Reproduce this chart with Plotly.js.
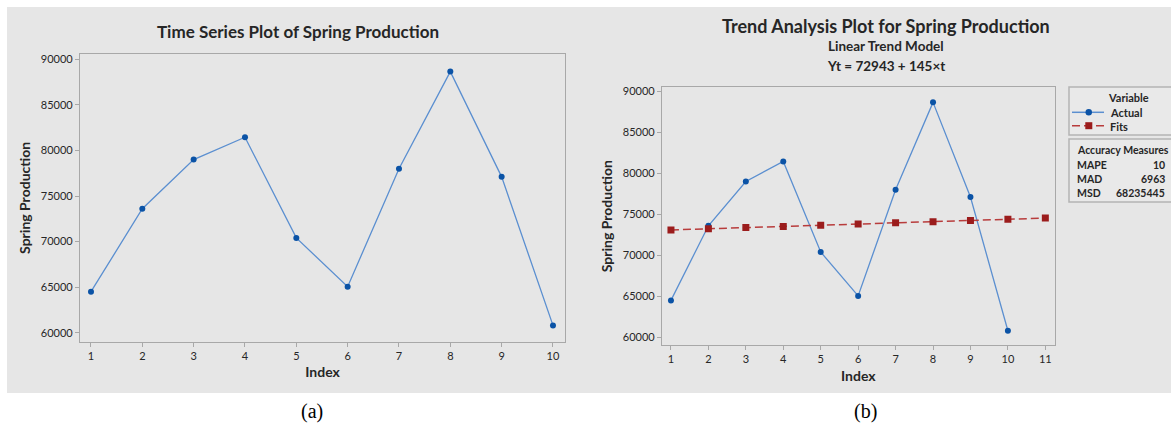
<!DOCTYPE html>
<html>
<head>
<meta charset="utf-8">
<script src="https://cdn.plot.ly/plotly-3.0.1.min.js"></script>
<style>html,body{margin:0;padding:0;background:#fff;}#chart{width:1171px;height:426px;}</style>
</head>
<body>
<div id="chart"></div>
<script>
// ---- data ----
const indexVals = [1, 2, 3, 4, 5, 6, 7, 8, 9, 10];
const actual = [64500, 73600, 79000, 81450, 70400, 65050, 78000, 88650, 77100, 60800];
const fitIndex = [1, 2, 3, 4, 5, 6, 7, 8, 9, 10, 11];
const fits = [73088, 73233, 73378, 73523, 73668, 73813, 73958, 74103, 74248, 74393, 74538];
const yTicks = [60000, 65000, 70000, 75000, 80000, 85000, 90000];
const yTickText = ["60000", "65000", "70000", "75000", "80000", "85000", "90000"];
const xTicksA = [1, 2, 3, 4, 5, 6, 7, 8, 9, 10];
const xTicksB = [1, 2, 3, 4, 5, 6, 7, 8, 9, 10, 11];
const measureNames = ["MAPE", "MAD", "MSD"];
const measureVals = ["10", "6963", "68235445"];

// ---- layout helpers ----
const W = 1171, H = 426;
const px = x => x / W;
const py = y => 1 - y / H;
const FONT = "Lato, 'Noto Sans', sans-serif";
const TXT = "#262626";
const FRAME = "#a8a8a8";

const blueLine = "#5b8fd0", blueMark = "#0b53a6";
const redLine = "#b83c3c", redMark = "#9b1c1c";

const traces = [
  {x: indexVals, y: actual, xaxis: "x", yaxis: "y", type: "scatter", mode: "lines+markers",
   line: {color: blueLine, width: 1.3}, marker: {color: blueMark, size: 6}, showlegend: false, name: "Actual"},
  {x: indexVals, y: actual, xaxis: "x2", yaxis: "y2", type: "scatter", mode: "lines+markers",
   line: {color: blueLine, width: 1.3}, marker: {color: blueMark, size: 6}, showlegend: false, name: "Actual"},
  {x: fitIndex, y: fits, xaxis: "x2", yaxis: "y2", type: "scatter", mode: "lines+markers",
   line: {color: redLine, width: 1.5, dash: "8px,4px"}, marker: {color: redMark, size: 7, symbol: "square"},
   showlegend: false, name: "Fits"}
];

function xAxis(domain, range, ticks, anchor) {
  return {domain: domain, range: range, anchor: anchor, tickvals: ticks, ticktext: ticks.map(String),
    showline: true, mirror: true, linecolor: FRAME, linewidth: 1, ticks: "outside", ticklen: 4,
    tickcolor: FRAME, showgrid: false, zeroline: false, fixedrange: true,
    tickfont: {family: FONT, size: 11, color: TXT},
    title: {text: "<b>Index</b>", font: {family: FONT, size: 14, color: TXT}, standoff: 6}};
}
function yAxis(domain, range, anchor) {
  return {domain: domain, range: range, anchor: anchor, tickvals: yTicks, ticktext: yTickText,
    showline: true, mirror: true, linecolor: FRAME, linewidth: 1, ticks: "outside", ticklen: 4,
    tickcolor: FRAME, showgrid: false, zeroline: false, fixedrange: true,
    tickfont: {family: FONT, size: 11, color: TXT},
    title: {text: "<b>Spring Production</b>", font: {family: FONT, size: 14, color: TXT}, standoff: 6}};
}

const shapes = [
  {type: "rect", xref: "paper", yref: "paper", x0: px(7), x1: 1.02, y0: py(393), y1: py(7),
   fillcolor: "#e6e6e6", line: {width: 0}, layer: "below"},
  // legend box
  {type: "rect", xref: "paper", yref: "paper", x0: px(1069), x1: px(1185), y0: py(135), y1: py(87),
   fillcolor: "#e9e9e9", line: {color: "#b4b4b4", width: 1.5}},
  // accuracy box
  {type: "rect", xref: "paper", yref: "paper", x0: px(1069), x1: px(1185), y0: py(202), y1: py(139),
   fillcolor: "#e9e9e9", line: {color: "#b4b4b4", width: 1.5}},
  // legend symbols
  {type: "line", xref: "paper", yref: "paper", x0: px(1072), x1: px(1104), y0: py(112.3), y1: py(112.3),
   line: {color: blueLine, width: 1.5}},
  {type: "circle", xref: "paper", yref: "paper", x0: px(1085.5), x1: px(1092), y0: py(115.5), y1: py(109),
   fillcolor: blueMark, line: {color: blueMark, width: 0}},
  {type: "line", xref: "paper", yref: "paper", x0: px(1072), x1: px(1104), y0: py(125.7), y1: py(125.7),
   line: {color: redLine, width: 1.5, dash: "8px,4px"}},
  {type: "rect", xref: "paper", yref: "paper", x0: px(1085.3), x1: px(1092.3), y0: py(129.2), y1: py(122.2),
   fillcolor: redMark, line: {color: redMark, width: 0}}
];

const ann = (text, x, y, size, opts) => Object.assign({
  text: text, x: px(x), y: py(y), xref: "paper", yref: "paper", showarrow: false,
  xanchor: "center", yanchor: "middle", font: {family: FONT, size: size, color: TXT}
}, opts || {});

const annotations = [
  ann("<b>Time Series Plot of Spring Production</b>", 298, 31, 17),
  ann("<b>Trend Analysis Plot for Spring Production</b>", 886, 26.5, 18),
  ann("<b>Linear Trend Model</b>", 886, 46.5, 13.5),
  ann("<b>Yt = 72943 + 145×t</b>", 886, 65.5, 13.5),
  ann("(a)", 312, 411, 20, {font: {family: "'Liberation Serif', 'DejaVu Serif', serif", size: 20, color: "#000"}}),
  ann("(b)", 865, 411, 20, {font: {family: "'Liberation Serif', 'DejaVu Serif', serif", size: 20, color: "#000"}}),
  ann("<b>Variable</b>", 1128.7, 97, 11),
  ann("<b>Actual</b>", 1108, 112.3, 11, {xanchor: "left"}),
  ann("<b>Fits</b>", 1108, 126, 11, {xanchor: "left"}),
  ann("<b>Accuracy Measures</b>", 1075, 150, 10.5, {xanchor: "left"})
];
measureNames.forEach((n, i) => {
  annotations.push(ann("<b>" + n + "</b>", 1075, 165 + i * 14, 10.5, {xanchor: "left"}));
  annotations.push(ann("<b>" + measureVals[i] + "</b>", 1167, 165 + i * 14, 10.5, {xanchor: "right"}));
});

const layout = {
  width: W, height: H,
  margin: {l: 0, r: 0, t: 0, b: 0, pad: 0},
  paper_bgcolor: "#ffffff", plot_bgcolor: "#ffffff",
  showlegend: false,
  xaxis: xAxis([px(79.9), px(565.3)], [0.784, 10.24], xTicksA, "y"),
  yaxis: yAxis([py(341.7), py(54)], [59012, 90582], "x"),
  xaxis2: xAxis([px(661.9), px(1054.7)], [0.758, 11.25], xTicksB, "y2"),
  yaxis2: yAxis([py(345), py(87.3)], [59061, 90488], "x2"),
  shapes: shapes,
  annotations: annotations
};

Plotly.newPlot("chart", traces, layout, {displayModeBar: false, staticPlot: true});
</script>
</body>
</html>
